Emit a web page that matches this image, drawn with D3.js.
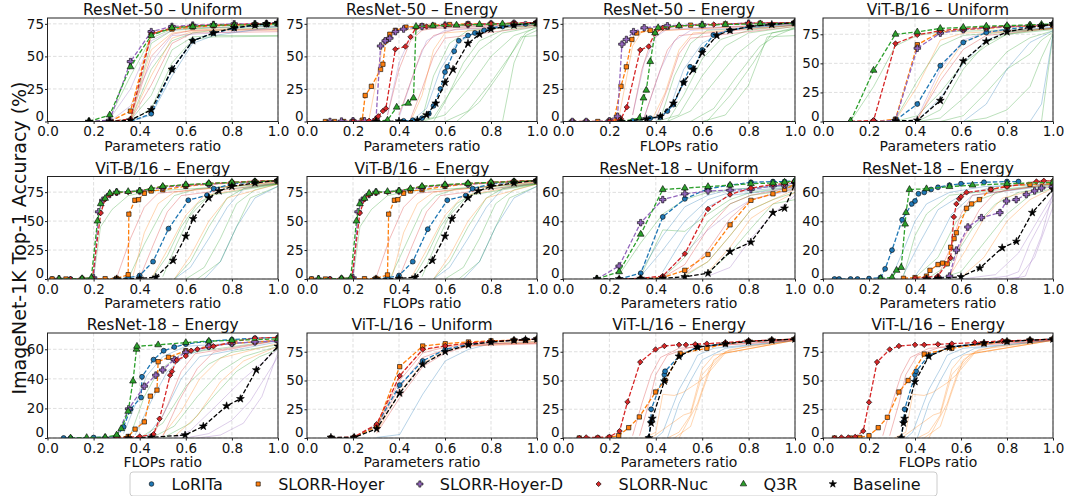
<!DOCTYPE html>
<html>
<head>
<meta charset="utf-8">
<script src="https://cdn.jsdelivr.net/npm/d3@7"></script>
<style>
body { margin: 0; background: #fff; }
svg { display: block; font-family: "DejaVu Sans", sans-serif; }
</style>
</head>
<body>
<svg id="chart" width="1068" height="496"></svg>
<script>
// ---- data ----
const METHODS = ["LoRITa", "SLORR-Hoyer", "SLORR-Hoyer-D", "SLORR-Nuc", "Q3R", "Baseline"];
const COLORS = ["#1f77b4", "#ff7f0e", "#9467bd", "#d62728", "#2ca02c", "#000000"];

const TITLES = [
  "ResNet-50 – Uniform", "ResNet-50 – Energy", "ResNet-50 – Energy", "ViT-B/16 – Uniform",
  "ViT-B/16 – Energy", "ViT-B/16 – Energy", "ResNet-18 – Uniform", "ResNet-18 – Energy",
  "ResNet-18 – Energy", "ViT-L/16 – Uniform", "ViT-L/16 – Energy", "ViT-L/16 – Energy"
];
const XLABELS = [
  "Parameters ratio", "Parameters ratio", "FLOPs ratio", "Parameters ratio",
  "Parameters ratio", "FLOPs ratio", "Parameters ratio", "Parameters ratio",
  "FLOPs ratio", "Parameters ratio", "Parameters ratio", "FLOPs ratio"
];
const YMAX = [79.5, 79.5, 79.5, 89, 88.5, 88.5, 71, 71, 71, 91.3, 91.3, 91.3];
const XTICKS = [0, 0.2, 0.4, 0.6, 0.8, 1.0];
const YTICKS_R50 = [0, 25, 50, 75];
const YTICKS_VIT = [0, 25, 50, 75];
const YTICKS_R18 = [0, 20, 40, 60];
const YTICKS = [YTICKS_R50, YTICKS_R50, YTICKS_R50, YTICKS_VIT, YTICKS_VIT, YTICKS_VIT,
  YTICKS_R18, YTICKS_R18, YTICKS_R18, YTICKS_VIT, YTICKS_VIT, YTICKS_VIT];

// main series, order = METHODS ([ratio, accuracy])
const r50UniformParams = [
  [[0.36,0],[0.45,6],[0.54,40],[0.63,62],[0.72,68],[0.81,71.5],[0.9,74],[0.95,74.5],[1,75]],
  [[0.27,0],[0.36,8],[0.45,68],[0.54,71],[0.63,72.5],[0.72,73.5],[0.81,74],[0.9,74.5],[0.95,74.8],[1,75]],
  [[0.18,0],[0.27,1],[0.36,46],[0.45,69],[0.54,73],[0.63,74],[0.72,74.5],[0.81,75],[0.9,75],[0.95,75.2],[1,76]],
  [[0.27,0],[0.36,2],[0.45,67],[0.54,72],[0.63,73.5],[0.72,74],[0.81,74.5],[0.9,75],[0.95,75],[1,75.5]],
  [[0.18,0],[0.27,5],[0.36,42],[0.45,66],[0.54,72],[0.63,73],[0.72,74],[0.81,74],[0.9,74.5],[0.95,74.8],[1,75]],
  [[0.18,0],[0.27,0],[0.36,1],[0.45,9],[0.54,40],[0.63,62],[0.72,68],[0.81,72],[0.9,74],[0.95,75],[1,76]]
];
const r50EnergyParams = [
  [[0.42,0.5],[0.46,1],[0.5,2.5],[0.53,6],[0.55,12],[0.58,25],[0.6,38],[0.61,42],[0.64,54],[0.66,62],[0.7,66],[0.73,68],[0.77,70],[0.8,72],[0.85,73],[0.9,74],[0.95,75],[1,76]],
  [[0.08,0],[0.12,0],[0.16,0],[0.2,0.3],[0.24,1],[0.253,20],[0.28,27],[0.32,40],[0.33,44],[0.343,62],[0.36,67],[0.384,70],[0.43,72.5],[0.5,73.5],[0.55,74],[0.62,74.5],[0.7,75],[0.8,75],[0.9,75.5],[1,76]],
  [[0.1,0],[0.15,0.3],[0.2,0.5],[0.25,0.5],[0.3,1.5],[0.32,58],[0.34,62],[0.36,64],[0.385,69],[0.42,71],[0.5,73],[0.6,74],[0.7,74.5],[0.8,75],[0.9,75.5],[1,76]],
  [[0.2,0],[0.27,0.5],[0.3,2],[0.31,4],[0.33,8],[0.343,10],[0.384,55.5],[0.428,57.6],[0.45,65],[0.474,72],[0.52,73],[0.6,74],[0.7,74.5],[0.8,75],[0.9,75.5],[1,76]],
  [[0.3,0],[0.35,1],[0.39,11],[0.44,14],[0.463,18],[0.474,73],[0.547,73.5],[0.65,74],[0.75,74.5],[0.85,75],[1,75]],
  [[0.3,0],[0.4,0.3],[0.48,1],[0.52,5],[0.56,14],[0.6,30],[0.635,40],[0.7,60],[0.75,67],[0.8,71],[0.9,74],[1,76]]
];
const r50EnergyFlops = [
  [[0.3,0.5],[0.376,2.5],[0.419,3.3],[0.45,8],[0.476,13],[0.52,30],[0.548,42],[0.562,40],[0.6,55],[0.648,66.5],[0.72,70],[0.806,73],[0.9,74.5],[1,76]],
  [[0.04,0],[0.1,0],[0.15,0],[0.2,0.5],[0.22,1],[0.25,27],[0.273,42],[0.297,63],[0.318,68],[0.376,70],[0.45,72.5],[0.55,74],[0.7,75],[0.85,75.5],[1,76]],
  [[0.04,0],[0.1,0],[0.2,0.5],[0.235,4],[0.254,59.4],[0.273,63],[0.304,69],[0.35,72],[0.45,73.5],[0.6,74.5],[0.8,75.5],[1,76]],
  [[0.2,0],[0.25,2],[0.275,11],[0.333,55],[0.369,57.6],[0.397,68],[0.43,72],[0.5,73.5],[0.65,74.5],[0.8,75.5],[1,76]],
  [[0.25,0],[0.33,2.5],[0.347,18],[0.359,24],[0.376,46],[0.397,68],[0.41,72],[0.5,73.5],[0.6,74],[0.7,74.5],[0.85,75],[1,75.5]],
  [[0.25,0],[0.36,2],[0.42,4],[0.476,14],[0.52,30],[0.562,40],[0.6,53],[0.663,66],[0.72,70],[0.806,73],[0.9,74.5],[1,76]]
];
const vitbUniformParams = [
  [[0.315,1],[0.41,15],[0.51,48],[0.61,68],[0.71,76.5],[0.8,79.5],[0.9,81.5],[0.95,82],[1,83]],
  [[0.22,0],[0.315,2],[0.41,66],[0.51,77],[0.61,79],[0.71,80],[0.8,81.5],[0.9,82],[0.95,82.5],[1,83]],
  [[0.22,0],[0.315,1],[0.41,63],[0.51,76],[0.61,79],[0.71,80.5],[0.8,81.5],[0.9,82.5],[1,83.5]],
  [[0.12,0],[0.22,1],[0.315,67],[0.41,74.5],[0.51,78],[0.61,80],[0.71,81],[0.8,82],[0.9,82.5],[0.95,83],[1,83]],
  [[0.12,0.5],[0.22,44],[0.315,75],[0.41,77],[0.51,80],[0.61,81],[0.71,82],[0.8,82.5],[0.9,83],[0.95,83.5],[1,84]],
  [[0.315,0.5],[0.41,1],[0.51,18],[0.61,52],[0.71,69],[0.8,77],[0.9,81],[0.95,82],[1,84]]
];
const vitbEnergyParams = [
  [[0.02,0],[0.1,0],[0.2,0],[0.3,0.3],[0.35,1],[0.4,3],[0.458,15],[0.525,43.5],[0.611,68],[0.692,72.4],[0.721,78],[0.8,82],[0.9,84],[1,85]],
  [[0.02,0],[0.08,0],[0.15,0],[0.25,0.3],[0.3,0.5],[0.35,3.7],[0.353,56],[0.379,68],[0.395,68.5],[0.42,74],[0.45,76],[0.5,77],[0.6,80],[0.7,82],[0.8,83],[0.9,84],[1,85]],
  [[0.05,0],[0.15,0],[0.2,1],[0.222,58],[0.24,68],[0.27,73],[0.3,75],[0.4,76],[0.5,79],[0.6,81],[0.7,82],[0.8,83],[0.9,84],[1,85]],
  [[0.1,0],[0.15,0.3],[0.195,1],[0.231,57],[0.25,69],[0.27,73],[0.3,74.5],[0.35,75],[0.4,76],[0.45,78],[0.5,80],[0.6,81],[0.7,82.5],[0.8,83.5],[0.9,84.5],[1,85]],
  [[0.05,0],[0.15,0.3],[0.19,1],[0.217,50],[0.231,65],[0.25,69.6],[0.27,74],[0.3,75],[0.35,75.5],[0.4,76],[0.45,78],[0.5,80],[0.6,81.5],[0.7,82.5],[0.8,83.5],[0.9,84],[1,85]],
  [[0.3,0],[0.4,0.5],[0.47,1.5],[0.545,16],[0.6,37],[0.632,52],[0.7,70],[0.744,76],[0.8,80],[0.9,83],[1,85]]
];
const vitbEnergyFlops = [
  [[0.02,0],[0.1,0],[0.2,0],[0.3,0.3],[0.35,1],[0.4,3],[0.46,15],[0.525,43],[0.61,68],[0.69,72],[0.72,78],[0.8,82],[0.9,84],[1,85]],
  [[0.02,0],[0.08,0],[0.15,0],[0.25,0.3],[0.3,0.5],[0.35,3.5],[0.355,56],[0.38,68],[0.395,68.5],[0.42,74],[0.45,76],[0.5,77],[0.6,80],[0.7,82],[0.8,83],[0.9,84],[1,85]],
  [[0.05,0],[0.15,0],[0.2,1],[0.222,58],[0.24,68],[0.27,73],[0.3,75],[0.4,76],[0.5,79],[0.6,81],[0.7,82],[0.8,83],[0.9,84],[1,85]],
  [[0.1,0],[0.15,0.3],[0.195,1],[0.23,57],[0.25,69],[0.27,73],[0.3,74.5],[0.35,75],[0.4,76],[0.45,78],[0.5,80],[0.6,81],[0.7,82.5],[0.8,83.5],[0.9,84.5],[1,85]],
  [[0.05,0],[0.15,0.3],[0.19,1],[0.215,50],[0.23,65],[0.25,69.6],[0.27,74],[0.3,75],[0.35,75.5],[0.4,76],[0.45,78],[0.5,80],[0.6,81.5],[0.7,82.5],[0.8,83.5],[0.9,84],[1,85]],
  [[0.3,0],[0.4,0.5],[0.47,1.5],[0.545,16],[0.6,37],[0.63,52],[0.7,70],[0.745,76],[0.8,80],[0.9,83],[1,85]]
];
const r18UniformParams = [
  [[0.242,0],[0.335,4],[0.43,43],[0.525,55.5],[0.625,62.5],[0.72,65],[0.81,67],[0.905,67.5],[0.955,67.5],[1,68]],
  [[0.335,0],[0.43,1],[0.525,6],[0.625,17],[0.72,37.5],[0.81,54.5],[0.905,59],[0.955,62],[1,66]],
  [[0.146,0],[0.242,9],[0.335,39],[0.43,55],[0.525,59],[0.625,61],[0.72,61.5],[0.81,62],[0.905,64.5],[0.955,65],[1,67]],
  [[0.242,0],[0.335,0.5],[0.43,2],[0.525,17.5],[0.625,48.5],[0.72,58.5],[0.81,63],[0.905,65.5],[0.955,66],[1,68]],
  [[0.146,0],[0.242,5],[0.335,31],[0.43,62],[0.525,63],[0.625,64],[0.72,65],[0.81,66],[0.905,66.5],[0.955,67],[1,68]],
  [[0.146,0],[0.242,0],[0.335,0.3],[0.43,0.5],[0.525,1.5],[0.625,4],[0.72,19],[0.81,25.5],[0.905,46],[0.955,49],[1,66]]
];
const r18EnergyParams = [
  [[0.05,0],[0.07,0],[0.12,0],[0.15,0],[0.2,0.3],[0.25,1],[0.27,7],[0.3,20],[0.344,41],[0.386,52],[0.4,54],[0.415,59],[0.44,60],[0.47,62],[0.5,63.5],[0.55,65],[0.6,66],[0.7,67],[0.8,67.5],[0.85,67.5]],
  [[0.35,0.5],[0.4,1],[0.45,2],[0.465,6],[0.5,10],[0.52,11],[0.54,10.5],[0.555,22],[0.57,28],[0.58,32],[0.624,49],[0.646,52],[0.68,55],[0.73,62],[0.8,64.5],[0.9,65.5],[1,66]],
  [[0.45,0],[0.5,0.5],[0.55,2],[0.58,20],[0.63,36],[0.689,42.5],[0.769,46],[0.798,54],[0.84,55],[0.884,58.5],[0.92,61],[0.95,63],[1,64]],
  [[0.4,0.5],[0.5,2],[0.555,14.5],[0.569,43],[0.58,52],[0.592,55.5],[0.6,57],[0.624,60],[0.73,62],[0.8,64],[0.928,67.5],[0.96,68],[1,68]],
  [[0.25,0.3],[0.3,1],[0.32,6],[0.34,8],[0.357,38],[0.361,46],[0.376,62],[0.45,62.5],[0.55,64],[0.65,65],[0.8,66],[1,67]],
  [[0.45,0],[0.5,0.5],[0.6,1.5],[0.682,7.6],[0.779,21.6],[0.841,26],[0.91,46],[1,62]]
];
const r18EnergyFlops = [
  [[0.07,0],[0.1,0],[0.2,0.3],[0.3,1],[0.33,7.5],[0.36,19.5],[0.406,27.4],[0.41,41.4],[0.46,53],[0.504,59],[0.55,61.5],[0.6,63.5],[0.7,65.5],[0.8,66.5],[0.9,67.5],[1,68]],
  [[0.3,0.5],[0.35,1],[0.38,6],[0.42,10.9],[0.446,28.3],[0.475,32.4],[0.48,51.6],[0.525,54.6],[0.6,59],[0.7,62],[0.8,64],[0.9,65],[1,66]],
  [[0.25,0],[0.3,1],[0.352,19.7],[0.42,35],[0.47,42.5],[0.5,46],[0.55,53],[0.6,58],[0.7,62],[0.8,64],[0.9,65],[1,65.5]],
  [[0.3,0],[0.4,1],[0.46,2.5],[0.486,13],[0.532,42.5],[0.54,45],[0.561,52.7],[0.6,55.5],[0.623,59],[0.65,60],[0.72,62],[0.8,65],[0.9,67.5],[1,68]],
  [[0.1,0],[0.17,0.3],[0.25,0.5],[0.3,2],[0.32,6.3],[0.35,18],[0.371,38.5],[0.386,60],[0.388,62],[0.48,63],[0.6,64.5],[0.7,65.5],[0.8,66],[1,67]],
  [[0.35,0],[0.45,0.5],[0.597,2],[0.676,7.9],[0.777,21.7],[0.837,26.5],[0.906,46],[1,62]]
];
const vitlUniformParams = [
  [[0.104,0],[0.205,0.5],[0.303,11],[0.403,46],[0.503,67],[0.601,77],[0.702,81.5],[0.8,83.5],[0.9,85],[0.95,85.5],[1,86]],
  [[0.104,0],[0.205,0.5],[0.303,10],[0.403,62],[0.503,80],[0.601,82],[0.702,83.5],[0.8,84.5],[0.9,85],[0.95,85],[1,86]],
  null,
  [[0.104,0],[0.205,1],[0.303,12],[0.403,54],[0.503,77],[0.601,80],[0.702,82.5],[0.8,84],[0.9,85],[0.95,85.5],[1,86]],
  null,
  [[0.104,0.5],[0.205,0.5],[0.303,8],[0.403,39],[0.503,64],[0.601,75],[0.702,81],[0.8,83.5],[0.9,85],[0.95,85.5],[1,86]]
];
const vitlEnergyParams = [
  [[0.369,0],[0.379,14],[0.38,25],[0.437,55],[0.44,58],[0.505,72],[0.58,79],[0.7,82],[0.8,84],[0.9,85],[1,86]],
  [[0.07,0],[0.15,0],[0.2,0.5],[0.24,2],[0.283,9],[0.329,18.3],[0.399,40],[0.44,50],[0.505,73.5],[0.62,78],[0.7,82],[0.8,84],[0.9,85],[1,86]],
  null,
  [[0.07,0],[0.1,0.5],[0.15,0.5],[0.2,1],[0.244,6],[0.278,31.4],[0.333,66],[0.399,77],[0.437,80],[0.5,81],[0.53,81],[0.57,81.5],[0.62,82],[0.7,83],[0.8,84.5],[0.9,85],[1,86]],
  null,
  [[0.37,0],[0.38,13],[0.385,17],[0.437,49.4],[0.5,71],[0.58,79],[0.7,82],[0.8,84],[0.9,85],[1,86]]
];
const vitlEnergyFlops = [
  [[0.34,0],[0.35,14],[0.355,25],[0.4,55],[0.405,58],[0.46,72],[0.55,79],[0.7,82.5],[0.8,84],[0.9,85],[1,86]],
  [[0.05,0],[0.12,0],[0.16,0.5],[0.2,2],[0.24,9],[0.28,18],[0.33,40],[0.37,50],[0.44,73],[0.56,78],[0.7,82],[0.8,84],[0.9,85],[1,86]],
  null,
  [[0.05,0],[0.08,0.5],[0.11,0.5],[0.14,1],[0.175,6],[0.2,31],[0.235,66],[0.29,77],[0.33,80],[0.4,81],[0.44,81],[0.5,81.5],[0.56,82],[0.66,83],[0.78,84.5],[0.9,85],[1,86]],
  null,
  [[0.34,0],[0.35,13],[0.355,17],[0.4,49],[0.46,71],[0.55,79],[0.7,82.5],[0.8,84],[0.9,85],[1,86]]
];

// faint individual runs: [colour key, points]
const r50UniformParamsRuns = [
  ["g", [[0.27,0],[0.36,2],[0.45,60],[0.54,70],[0.63,71],[0.72,72],[0.81,72],[0.9,73],[1,73]]],
  ["g", [[0.36,1],[0.45,40],[0.54,62],[0.63,68],[0.72,70],[0.81,71],[0.9,71.5],[1,72]]],
  ["g", [[0.36,1],[0.45,20],[0.54,55],[0.63,65],[0.72,66],[0.81,66],[0.9,66],[1,66]]],
  ["g", [[0.36,0],[0.45,10],[0.54,45],[0.63,63],[0.72,65],[1,65.5]]],
  ["g", [[0.27,3],[0.36,35],[0.45,64],[0.54,71],[1,74]]],
  ["o", [[0.36,3],[0.45,55],[0.54,68],[0.63,70],[0.72,71],[0.81,71],[1,71]]],
  ["o", [[0.36,1],[0.45,35],[0.54,64],[0.63,69],[0.72,70],[1,70]]],
  ["r", [[0.36,2],[0.45,50],[0.54,67],[0.63,70],[1,71]]],
  ["r", [[0.36,1],[0.45,28],[0.54,60],[0.63,68],[1,69]]],
  ["p", [[0.27,2],[0.36,25],[0.45,62],[0.54,70],[0.63,72],[1,73]]],
  ["p", [[0.27,0],[0.36,12],[0.45,45],[0.54,66],[1,71]]],
  ["b", [[0.36,0],[0.45,5],[0.54,35],[0.63,60],[0.72,66],[1,73]]]
];
const r50EnergyParamsRuns = [
  ["g", [[0.45,0],[0.55,3],[0.65,30],[0.75,55],[0.85,68],[1,73]]],
  ["g", [[0.5,0],[0.6,5],[0.7,25],[0.8,50],[0.9,66],[1,72]]],
  ["g", [[0.6,0],[0.7,8],[0.8,30],[0.9,55],[0.95,68],[1,73]]],
  ["g", [[0.8,0],[0.85,0],[0.9,45],[0.95,66],[1,70]]],
  ["g", [[0.55,0],[0.6,15],[0.68,45],[0.75,62],[0.85,70],[1,74]]],
  ["g", [[0.5,2],[0.55,35],[0.62,60],[0.7,70],[1,74]]],
  ["g", [[0.65,0],[0.75,15],[0.85,40],[0.93,65],[1,66]]],
  ["r", [[0.35,5],[0.4,40],[0.45,62],[0.5,70],[0.6,73],[1,75]]],
  ["r", [[0.4,5],[0.45,30],[0.5,55],[0.55,66],[0.65,71],[1,74]]],
  ["r", [[0.45,2],[0.5,25],[0.55,50],[0.6,64],[1,73]]],
  ["o", [[0.27,2],[0.3,30],[0.33,60],[0.38,70],[1,75]]],
  ["o", [[0.45,0],[0.5,20],[0.55,55],[0.6,68],[1,74]]],
  ["p", [[0.35,5],[0.4,45],[0.45,65],[0.5,71],[1,75]]],
  ["p", [[0.4,3],[0.47,40],[0.52,62],[0.6,70],[1,74]]],
  ["b", [[0.45,0],[0.52,10],[0.58,40],[0.65,60],[0.75,70],[1,75]]]
];
const r50EnergyFlopsRuns = [
  ["g", [[0.4,0],[0.5,5],[0.6,35],[0.7,58],[0.8,68],[1,73]]],
  ["g", [[0.45,0],[0.55,8],[0.65,30],[0.75,52],[0.85,66],[1,72]]],
  ["g", [[0.55,0],[0.65,10],[0.75,35],[0.85,58],[0.92,66],[1,72]]],
  ["g", [[0.6,0],[0.7,5],[0.8,28],[0.88,65],[1,66]]],
  ["g", [[0.45,0],[0.52,20],[0.6,48],[0.68,63],[0.8,70],[1,74]]],
  ["g", [[0.42,2],[0.48,35],[0.55,60],[0.62,70],[1,74]]],
  ["g", [[0.62,0],[0.72,20],[0.82,45],[0.9,68],[1,71]]],
  ["r", [[0.3,5],[0.34,40],[0.38,62],[0.43,70],[1,75]]],
  ["r", [[0.35,3],[0.4,30],[0.45,55],[0.5,66],[1,74]]],
  ["r", [[0.4,2],[0.45,25],[0.5,52],[0.55,64],[1,73]]],
  ["o", [[0.24,2],[0.27,30],[0.3,58],[0.34,69],[1,75]]],
  ["o", [[0.38,0],[0.44,22],[0.5,55],[0.56,68],[1,74]]],
  ["p", [[0.3,5],[0.35,45],[0.4,65],[0.45,71],[1,75]]],
  ["p", [[0.35,3],[0.42,40],[0.48,62],[0.55,70],[1,74]]],
  ["b", [[0.4,0],[0.46,10],[0.52,40],[0.6,60],[0.7,70],[1,75]]]
];
const vitbUniformParamsRuns = [
  ["g", [[0.12,0],[0.22,30],[0.315,65],[0.41,74],[0.51,77],[1,80]]],
  ["g", [[0.315,0],[0.41,5],[0.51,25],[0.61,50],[0.71,65],[0.8,75],[0.9,78],[1,80]]],
  ["g", [[0.41,0],[0.51,3],[0.61,20],[0.71,40],[0.8,60],[0.9,72],[1,78]]],
  ["g", [[0.51,0],[0.61,5],[0.71,25],[0.8,45],[0.9,58],[0.95,70],[1,77]]],
  ["g", [[0.61,0],[0.71,3],[0.8,10],[0.9,30],[0.95,55],[1,76]]],
  ["g", [[0.8,0],[0.9,0],[0.95,0],[1,75]]],
  ["g", [[0.41,0],[0.51,10],[0.61,45],[0.71,68],[0.8,75],[1,79]]],
  ["g", [[0.315,2],[0.41,35],[0.51,65],[0.61,74],[1,80]]],
  ["o", [[0.315,1],[0.41,30],[0.51,70],[0.61,76],[1,80]]],
  ["o", [[0.41,1],[0.51,40],[0.61,68],[0.71,76],[1,80]]],
  ["r", [[0.41,2],[0.51,35],[0.61,62],[0.71,74],[1,80]]],
  ["p", [[0.41,3],[0.51,45],[0.61,70],[0.71,77],[1,81]]],
  ["b", [[0.41,1],[0.51,20],[0.61,50],[0.71,70],[0.8,77],[1,81]]],
  ["b", [[0.61,0],[0.71,15],[0.8,45],[0.9,68],[1,78]]],
  ["b", [[0.8,0],[0.9,0],[0.95,15],[1,75]]]
];
const vitbEnergyParamsRuns = [
  ["g", [[0.2,1],[0.23,45],[0.28,60],[0.35,72],[0.45,76],[1,82]]],
  ["g", [[0.35,0],[0.42,30],[0.5,60],[0.55,72],[0.65,78],[1,83]]],
  ["g", [[0.45,0],[0.52,20],[0.58,45],[0.65,65],[0.75,77],[1,82]]],
  ["g", [[0.55,0],[0.62,15],[0.7,45],[0.78,70],[0.85,78],[1,82]]],
  ["g", [[0.6,0],[0.68,10],[0.75,35],[0.82,65],[0.9,77],[1,82]]],
  ["g", [[0.65,0],[0.75,15],[0.82,45],[0.88,70],[1,80]]],
  ["g", [[0.5,2],[0.56,30],[0.62,55],[0.7,72],[1,82]]],
  ["r", [[0.3,1],[0.36,35],[0.42,62],[0.48,74],[1,84]]],
  ["r", [[0.4,1],[0.46,30],[0.52,58],[0.58,72],[1,83]]],
  ["o", [[0.37,2],[0.42,40],[0.48,65],[0.55,75],[1,84]]],
  ["o", [[0.45,0],[0.52,25],[0.6,55],[0.68,72],[1,83]]],
  ["o", [[0.55,0],[0.62,20],[0.7,50],[0.78,70],[1,82]]],
  ["b", [[0.55,0],[0.62,10],[0.7,35],[0.78,62],[0.85,78],[1,83]]],
  ["b", [[0.68,0],[0.75,15],[0.82,45],[0.9,70],[1,80]]]
];
const vitbEnergyFlopsRuns = [
  ["g", [[0.2,1],[0.23,45],[0.28,60],[0.35,72],[0.45,76],[1,82]]],
  ["g", [[0.36,0],[0.43,30],[0.5,60],[0.56,72],[0.65,78],[1,83]]],
  ["g", [[0.46,0],[0.52,20],[0.58,45],[0.65,65],[0.75,77],[1,82]]],
  ["g", [[0.55,0],[0.62,15],[0.7,45],[0.78,70],[0.85,78],[1,82]]],
  ["g", [[0.6,0],[0.68,10],[0.75,35],[0.82,65],[0.9,77],[1,82]]],
  ["g", [[0.66,0],[0.75,15],[0.82,45],[0.88,70],[1,80]]],
  ["g", [[0.5,2],[0.56,30],[0.62,55],[0.7,72],[1,82]]],
  ["r", [[0.3,1],[0.36,35],[0.42,62],[0.48,74],[1,84]]],
  ["r", [[0.4,1],[0.46,30],[0.52,58],[0.58,72],[1,83]]],
  ["o", [[0.37,2],[0.42,40],[0.48,65],[0.55,75],[1,84]]],
  ["o", [[0.45,0],[0.52,25],[0.6,55],[0.68,72],[1,83]]],
  ["o", [[0.55,0],[0.62,20],[0.7,50],[0.78,70],[1,82]]],
  ["b", [[0.55,0],[0.62,10],[0.7,35],[0.78,62],[0.85,78],[1,83]]],
  ["b", [[0.68,0],[0.75,15],[0.82,45],[0.9,70],[1,80]]]
];
const r18UniformParamsRuns = [
  ["g", [[0.242,3],[0.335,25],[0.43,45],[0.525,55],[0.625,60],[0.72,62],[1,65]]],
  ["g", [[0.335,2],[0.43,34],[0.525,33],[0.625,45],[0.72,55],[0.81,60],[1,64]]],
  ["g", [[0.43,1],[0.525,15],[0.625,40],[0.72,52],[0.81,58],[1,62]]],
  ["g", [[0.525,2],[0.625,12],[0.72,30],[0.81,48],[0.905,55],[1,60]]],
  ["g", [[0.625,4],[0.72,18],[0.81,35],[0.905,52],[1,55]]],
  ["b", [[0.335,5],[0.43,30],[0.525,50],[0.625,58],[0.72,62],[1,65]]],
  ["b", [[0.335,2],[0.43,20],[0.525,40],[0.625,55],[0.72,60],[1,64]]],
  ["b", [[0.43,5],[0.525,30],[0.625,50],[0.72,58],[1,63]]],
  ["r", [[0.43,1],[0.525,10],[0.625,35],[0.72,52],[0.81,58],[1,64]]],
  ["r", [[0.525,3],[0.625,20],[0.72,42],[0.81,55],[1,63]]],
  ["o", [[0.525,3],[0.625,12],[0.72,30],[0.81,48],[0.905,55],[1,62]]],
  ["o", [[0.625,5],[0.72,22],[0.81,42],[0.905,52],[1,60]]],
  ["p", [[0.43,2],[0.525,18],[0.625,34],[0.72,46],[0.81,55],[1,62]]],
  ["p", [[0.625,2],[0.72,8],[0.81,28],[0.905,45],[1,58]]]
];
const r18EnergyParamsRuns = [
  ["b", [[0.3,2],[0.35,20],[0.4,40],[0.45,52],[0.55,60],[0.7,64],[1,66]]],
  ["b", [[0.35,3],[0.42,25],[0.5,48],[0.6,58],[0.75,64],[1,66]]],
  ["b", [[0.4,2],[0.48,20],[0.56,45],[0.65,58],[1,65]]],
  ["g", [[0.4,1],[0.5,15],[0.58,40],[0.68,55],[0.8,62],[1,65]]],
  ["g", [[0.45,0],[0.55,10],[0.65,35],[0.75,52],[0.85,60],[1,64]]],
  ["g", [[0.5,0],[0.6,5],[0.7,25],[0.8,45],[0.9,58],[1,63]]],
  ["g", [[0.35,2],[0.4,30],[0.45,45],[0.55,58],[1,66]]],
  ["r", [[0.5,2],[0.55,20],[0.6,45],[0.65,58],[1,66]]],
  ["r", [[0.55,1],[0.6,25],[0.68,48],[0.75,60],[1,66]]],
  ["o", [[0.55,2],[0.62,20],[0.7,42],[0.78,56],[1,65]]],
  ["o", [[0.6,1],[0.7,15],[0.8,40],[0.9,55],[1,63]]],
  ["p", [[0.7,0],[0.8,2],[0.85,5],[0.9,25],[1,55]]],
  ["p", [[0.75,0],[0.85,1],[0.92,15],[1,50]]],
  ["p", [[0.6,0],[0.75,3],[0.85,18],[0.95,45],[1,58]]],
  ["p", [[0.82,0],[0.88,2],[0.95,30],[1,60]]]
];
const r18EnergyFlopsRuns = [
  ["b", [[0.33,3],[0.38,22],[0.43,42],[0.5,55],[0.6,62],[1,66]]],
  ["b", [[0.38,2],[0.45,25],[0.52,45],[0.6,56],[0.75,63],[1,66]]],
  ["b", [[0.43,1],[0.5,15],[0.58,40],[0.66,55],[1,65]]],
  ["g", [[0.4,0],[0.5,10],[0.6,35],[0.7,50],[0.8,58],[1,63]]],
  ["g", [[0.45,0],[0.55,8],[0.65,28],[0.75,45],[0.85,55],[1,62]]],
  ["g", [[0.5,0],[0.62,10],[0.72,28],[0.82,45],[0.92,55],[1,60]]],
  ["g", [[0.36,2],[0.42,28],[0.48,45],[0.58,57],[1,66]]],
  ["r", [[0.46,2],[0.52,22],[0.58,45],[0.64,57],[1,66]]],
  ["r", [[0.5,1],[0.57,25],[0.65,47],[0.72,58],[1,66]]],
  ["o", [[0.5,2],[0.58,18],[0.66,40],[0.75,54],[1,64]]],
  ["o", [[0.55,1],[0.65,15],[0.75,38],[0.85,52],[1,62]]],
  ["p", [[0.6,0],[0.7,3],[0.8,12],[0.88,25],[1,55]]],
  ["p", [[0.65,0],[0.75,2],[0.85,10],[0.93,28],[1,58]]],
  ["p", [[0.55,0],[0.62,5],[0.72,20],[0.85,40],[1,60]]]
];
const vitlUniformParamsRuns = [
  ["b", [[0.303,0.5],[0.403,3],[0.503,38],[0.601,67],[0.702,77],[0.8,82],[0.9,83],[1,84]]],
  ["r", [[0.303,10],[0.403,50],[0.503,74],[0.601,79],[0.702,81],[0.8,82],[1,83]]],
  ["r", [[0.303,9],[0.403,44],[0.503,70],[0.601,77],[0.702,80],[1,82]]],
  ["r", [[0.303,4],[0.403,35],[0.503,62],[0.601,74],[0.702,80],[0.8,82],[1,82]]],
  ["o", [[0.303,8],[0.403,55],[0.503,76],[0.601,80],[0.702,82],[1,84]]],
  ["o", [[0.303,5],[0.403,40],[0.503,65],[0.601,76],[0.702,80],[1,83]]]
];
const vitlEnergyParamsRuns = [
  ["o", [[0.35,0],[0.4,5],[0.43,38],[0.48,37],[0.52,40],[0.58,48],[0.62,55],[0.7,74],[1,85]]],
  ["o", [[0.38,0],[0.45,10],[0.52,20],[0.55,22],[0.6,60],[0.65,72],[1,85]]],
  ["o", [[0.45,0],[0.5,5],[0.55,20],[0.6,55],[0.68,73],[1,85]]],
  ["o", [[0.48,0],[0.55,10],[0.6,40],[0.65,68],[0.72,77],[1,85]]],
  ["o", [[0.5,0],[0.58,30],[0.63,60],[0.7,75],[0.8,80],[1,85]]],
  ["b", [[0.4,0],[0.43,5],[0.5,42],[0.55,60],[0.58,72],[0.65,78],[1,85]]],
  ["b", [[0.45,0],[0.5,30],[0.55,50],[0.6,68],[0.7,78],[1,85]]],
  ["r", [[0.3,2],[0.34,30],[0.38,55],[0.42,70],[0.5,78],[1,85]]],
  ["r", [[0.33,2],[0.37,30],[0.4,55],[0.45,72],[0.55,79],[1,85]]]
];
const vitlEnergyFlopsRuns = [
  ["o", [[0.31,0],[0.36,5],[0.39,38],[0.44,37],[0.48,40],[0.54,48],[0.58,55],[0.66,74],[1,85]]],
  ["o", [[0.34,0],[0.41,10],[0.48,20],[0.51,22],[0.56,60],[0.61,72],[1,85]]],
  ["o", [[0.41,0],[0.46,5],[0.51,20],[0.56,55],[0.64,73],[1,85]]],
  ["o", [[0.44,0],[0.51,10],[0.56,40],[0.61,68],[0.68,77],[1,85]]],
  ["o", [[0.46,0],[0.54,30],[0.59,60],[0.66,75],[0.76,80],[1,85]]],
  ["b", [[0.36,0],[0.39,5],[0.46,42],[0.51,60],[0.54,72],[0.61,78],[1,85]]],
  ["b", [[0.41,0],[0.46,30],[0.51,50],[0.56,68],[0.66,78],[1,85]]],
  ["r", [[0.26,2],[0.3,30],[0.34,55],[0.38,70],[0.46,78],[1,85]]],
  ["r", [[0.29,2],[0.33,30],[0.36,55],[0.41,72],[0.51,79],[1,85]]]
];

const MAIN = [r50UniformParams, r50EnergyParams, r50EnergyFlops, vitbUniformParams,
  vitbEnergyParams, vitbEnergyFlops, r18UniformParams, r18EnergyParams,
  r18EnergyFlops, vitlUniformParams, vitlEnergyParams, vitlEnergyFlops];
const RUNS = [r50UniformParamsRuns, r50EnergyParamsRuns, r50EnergyFlopsRuns, vitbUniformParamsRuns,
  vitbEnergyParamsRuns, vitbEnergyFlopsRuns, r18UniformParamsRuns, r18EnergyParamsRuns,
  r18EnergyFlopsRuns, vitlUniformParamsRuns, vitlEnergyParamsRuns, vitlEnergyFlopsRuns];

// ---- layout ----
const COLS = [[47.5, 278], [307, 537], [563, 795], [823, 1053]];
const ROWS = [[18, 121.5], [176.5, 279], [333, 438]];
const RUN_COLOR = {b: "#1f77b4", o: "#ff7f0e", p: "#9467bd", r: "#d62728", g: "#2ca02c"};
const SYMBOLS = [d3.symbolCircle, d3.symbolSquare, d3.symbolCross, d3.symbolSquare, d3.symbolTriangle, d3.symbolStar];
const SYM_SIZE = [19, 19, 24, 15, 20, 19];
const SYM_ROT = [0, 0, 0, 45, 0, 0];

const svg = d3.select("#chart");
const defs = svg.append("defs");

function marker(sel, k, size) {
  sel.append("path")
    .attr("d", d3.symbol().type(SYMBOLS[k]).size(size || SYM_SIZE[k]))
    .attr("fill", COLORS[k])
    .attr("stroke", "#000")
    .attr("stroke-width", 0.6);
}

MAIN.forEach((series, i) => {
  const [x0, x1] = COLS[i % 4];
  const [y0, y1] = ROWS[Math.floor(i / 4)];
  const x = d3.scaleLinear().domain([0, 1]).range([x0, x1]);
  const y = d3.scaleLinear().domain([0, YMAX[i]]).range([y1, y0]);
  const g = svg.append("g");

  defs.append("clipPath").attr("id", "clip" + i)
    .append("rect").attr("x", x0).attr("y", y0).attr("width", x1 - x0).attr("height", y1 - y0);

  // grid
  const grid = g.append("g").attr("stroke", "#b0b0b0").attr("stroke-opacity", 0.5)
    .attr("stroke-width", 0.8).attr("stroke-dasharray", "3.5,2");
  grid.selectAll(".gx").data(XTICKS).enter().append("line")
    .attr("x1", d => x(d)).attr("x2", d => x(d)).attr("y1", y0).attr("y2", y1);
  grid.selectAll(".gy").data(YTICKS[i]).enter().append("line")
    .attr("x1", x0).attr("x2", x1).attr("y1", d => y(d)).attr("y2", d => y(d));

  const plot = g.append("g").attr("clip-path", `url(#clip${i})`);
  const line = d3.line().x(d => x(d[0])).y(d => y(d[1]));

  // faint runs
  plot.selectAll(".run").data(RUNS[i]).enter().append("path")
    .attr("d", d => line(d[1]))
    .attr("fill", "none")
    .attr("stroke", d => RUN_COLOR[d[0]])
    .attr("stroke-opacity", 0.32)
    .attr("stroke-width", 1);

  // main series
  series.forEach((pts, k) => {
    if (!pts) return;
    plot.append("path")
      .attr("d", line(pts))
      .attr("fill", "none")
      .attr("stroke", COLORS[k])
      .attr("stroke-width", 1.3)
      .attr("stroke-dasharray", "4.5,2");
    plot.selectAll(null).data(pts).enter().append("g")
      .attr("transform", d => `translate(${x(d[0])},${y(d[1])}) rotate(${SYM_ROT[k]})`)
      .each(function () { marker(d3.select(this), k); });
  });

  // frame + axes
  g.append("rect").attr("x", x0).attr("y", y0).attr("width", x1 - x0).attr("height", y1 - y0)
    .attr("fill", "none").attr("stroke", "#222").attr("stroke-width", 1);

  const ax = g.append("g").attr("transform", `translate(0,${y1})`)
    .call(d3.axisBottom(x).tickValues(XTICKS).tickFormat(d3.format(".1f")).tickSize(2.5).tickPadding(2.5));
  const ay = g.append("g").attr("transform", `translate(${x0},0)`)
    .call(d3.axisLeft(y).tickValues(YTICKS[i]).tickSize(2.5).tickPadding(1));
  [ax, ay].forEach(a => {
    a.select(".domain").remove();
    a.selectAll("text").attr("font-size", 13.5).attr("font-family", "DejaVu Sans").attr("fill", "#111");
    a.selectAll("line").attr("stroke", "#222");
  });
  // lift the bottom y label a little so it clears the x tick labels
  ay.selectAll(".tick").filter(d => d === 0).select("text").attr("dy", "-0.1em");

  g.append("text").attr("x", (x0 + x1) / 2).attr("y", y1 + 29)
    .attr("text-anchor", "middle").attr("font-size", 14).attr("fill", "#111")
    .text(XLABELS[i]);
  g.append("text").attr("x", (x0 + x1) / 2).attr("y", y0 - 3)
    .attr("text-anchor", "middle").attr("font-size", 15.5).attr("fill", "#111")
    .text(TITLES[i]);
});

// shared y label
svg.append("text")
  .attr("transform", "translate(26,238) rotate(-90)")
  .attr("text-anchor", "middle").attr("font-size", 19).attr("fill", "#111")
  .text("ImageNet-1K Top-1 Accuracy (%)");

// legend
const leg = svg.append("g");
leg.append("rect").attr("x", 130).attr("y", 472).attr("width", 807).attr("height", 24)
  .attr("rx", 3).attr("fill", "#fff").attr("stroke", "#cccccc").attr("stroke-width", 1);
let cx = 151.5;
METHODS.forEach((m, k) => {
  const item = leg.append("g");
  item.append("g").attr("transform", `translate(${cx},484) rotate(${SYM_ROT[k]})`)
    .call(s => marker(s, k, SYM_SIZE[k] * 0.9));
  const t = item.append("text").attr("x", cx + 20).attr("y", 489.5)
    .attr("font-size", 16).attr("fill", "#111").text(m);
  cx = cx + 20 + t.node().getComputedTextLength() + 35.5;
});
</script>
</body>
</html>
